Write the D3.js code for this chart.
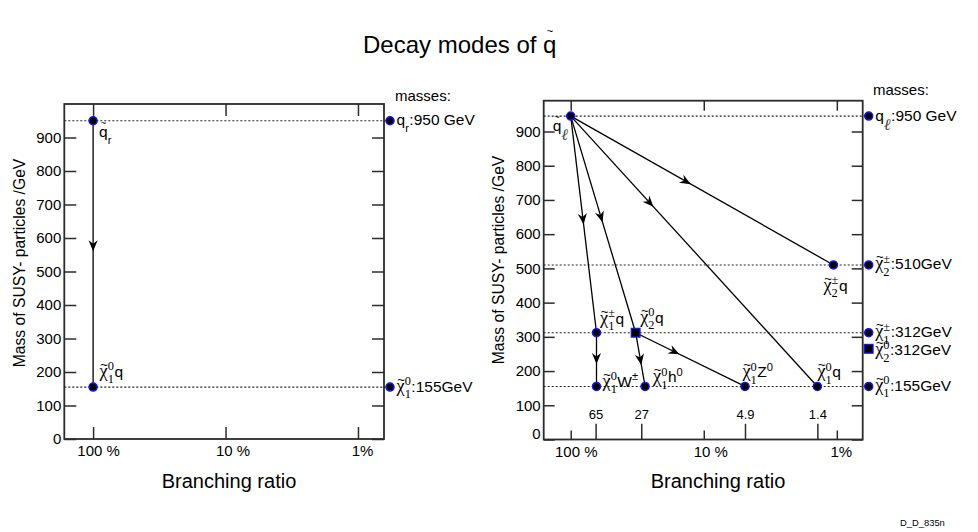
<!DOCTYPE html>
<html>
<head>
<meta charset="utf-8">
<script src="https://cdn.jsdelivr.net/npm/d3@7"></script>
<style>
  body { margin: 0; background: #fff; }
  svg { display: block; }
  text { white-space: pre; }
</style>
</head>
<body>
<svg id="chart" width="978" height="532"></svg>
<script>
const SANS = "'Liberation Sans', Arial, Helvetica, sans-serif";
const SERIF = "'Liberation Serif', 'Times New Roman', serif";
const BLUE = "#1414f0";
const INK = "#2b2b2b";

//------ DATA ------
const yTickValues = d3.range(0, 1000, 100);
const brTicks = [100, 10, 1];
const brTickLabels = ["100 %", "10 %", "1%"];

// left: right-handed squark
const leftStates = [
  { id: "sqR", mass: 950, br: 100 },
  { id: "n1q", mass: 155, br: 100 }
];
const leftDecays = [["sqR", "n1q"]];
const leftLevels = [950, 155];
const leftMassNames = ["qR", "n1"];
const leftMassValues = [950, 155];
const leftMassText = [":950 GeV", ":155GeV"];

// right: left-handed squark
const rightStates = [
  { id: "sqL", mass: 945, br: 100 },
  { id: "c2q", mass: 510, br: 1.06 },
  { id: "c1q", mass: 312, br: 64 },
  { id: "n2q", mass: 312, br: 32.5 },
  { id: "n1W", mass: 155, br: 64 },
  { id: "n1h", mass: 155, br: 27.6 },
  { id: "n1Z", mass: 155, br: 4.9 },
  { id: "n1q", mass: 155, br: 1.4 }
];
const rightDecays = [
  ["sqL", "c1q"], ["sqL", "n2q"], ["sqL", "n1q"], ["sqL", "c2q"],
  ["c1q", "n1W"], ["n2q", "n1h"], ["n2q", "n1Z"]
];
const rightLevels = [945, 510, 312, 155];
const rightMassNames = ["qL", "c2", "c1", "n2", "n1"];
const rightMassValues = [945, 510, 312, 265, 155];
const rightMassText = [":950 GeV", ":510GeV", ":312GeV", ":312GeV", ":155GeV"];
const finalBrTicks = [65, 29.5, 4.9, 1.4];
const finalBrLabels = ["65", "27", "4.9", "1.4"];

//------ LAYOUT ------
const squareIds = new Set(["n2q", "n2"]);

// where the arrow tip sits along each decay line (fraction from the parent)
const arrowAt = {
  "sqR>n1q": 0.49, "sqL>c1q": 0.5, "sqL>n2q": 0.49, "sqL>n1q": 0.335,
  "sqL>c2q": 0.457, "c1q>n1W": 0.58, "n2q>n1h": 0.6, "n2q>n1Z": 0.4
};

// label offsets from the marker, px
const labelOffset = {
  left: { sqR: [6, 16.5], n1q: [6.5, -10.5] },
  right: {
    sqL: [-18, 15], c2q: [-10, 26], c1q: [3.5, -9], n2q: [4.5, -10],
    n1W: [6, 0.5], n1h: [8, -4], n1Z: [-2.5, -9], n1q: [0, -9]
  }
};

const chi = (sup, sub) => [{ t: "χ", serif: true, tilde: true }, { sup: sup, sub: sub, serif: true }];
const particle = {
  sqR: [{ t: "q", tilde: true }, { sub: "r" }],
  sqL: [{ t: "q", tilde: true }, { sub: "ℓ", ell: true }],
  n1q: [...chi("0", "1"), { t: "q" }],
  c2q: [...chi("±", "2"), { t: "q" }],
  c1q: [...chi("±", "1"), { t: "q" }],
  n2q: [...chi("0", "2"), { t: "q" }],
  n1W: [...chi("0", "1"), { t: "W" }, { sup: "±" }],
  n1h: [...chi("0", "1"), { t: "h" }, { sup: "0" }],
  n1Z: [...chi("0", "1"), { t: "Z" }, { sup: "0" }],
  qR: [{ t: "q" }, { sub: "r" }],
  qL: [{ t: "q" }, { sub: "ℓ", ell: true }],
  c2: chi("±", "2"),
  c1: chi("±", "1"),
  n2: chi("0", "2"),
  n1: chi("0", "1")
};

const panels = [
  {
    key: "left", x0: 64.3, x1: 384, y0: 104, y1: 439, yTop: 1000, brDomain: [165, 0.636],
    states: leftStates, decays: leftDecays, levels: leftLevels,
    massNames: leftMassNames, massValues: leftMassValues, massText: leftMassText,
    yTick: 12, xTickTop: 12, xTickBot: 12, tickDx: [5, 7, 4],
    yTitle: [25, 263], massesAt: [395, 100.7], branchX: 229, zeroUp: 0, extra: false
  },
  {
    key: "right", x0: 543.7, x1: 862.7, y0: 100.7, y1: 439.5, yTop: 990, brDomain: [159.6, 0.639],
    states: rightStates, decays: rightDecays, levels: rightLevels,
    massNames: rightMassNames, massValues: rightMassValues, massText: rightMassText,
    yTick: 11, xTickTop: 10, xTickBot: 9, tickDx: [5, 6.5, 4],
    yTitle: [504, 260], massesAt: [873, 95], branchX: 718, zeroUp: 6, extra: true
  }
];

//------ HELPERS ------
// draws a little TLatex-like string: pieces of text, tildes, stacked scripts
function rich(g, x, y, pieces, size) {
  let cx = x;
  pieces.forEach(p => {
    if (p.t != null) {
      const fs = p.serif ? size * 1.18 : size;
      const t = g.append("text")
        .attr("x", cx).attr("y", y)
        .attr("font-family", p.serif ? SERIF : SANS)
        .attr("font-size", fs)
        .text(p.t);
      const w = t.node().getComputedTextLength();
      if (p.tilde) {
        const ts = size * (p.tildeSize || (p.serif ? 0.85 : 0.6));
        const rise = size * (p.rise || (p.serif ? 0.8 : 0.9));
        g.append("text")
          .attr("x", cx + w / 2 + (p.serif ? 0.5 : 0))
          .attr("y", y - rise + ts * 0.33)
          .attr("text-anchor", "middle")
          .attr("font-family", SANS)
          .attr("font-size", ts)
          .text("~");
      }
      cx += w;
    } else {
      const ss = size * (p.serif ? 0.8 : 0.72);
      let w = 0;
      if (p.sup != null) {
        const t = g.append("text")
          .attr("x", cx).attr("y", y - size * 0.42)
          .attr("font-family", p.serif ? SERIF : SANS)
          .attr("font-size", ss)
          .text(p.sup);
        w = Math.max(w, t.node().getComputedTextLength());
      }
      if (p.sub != null) {
        let t;
        if (p.ell) {
          t = g.append("text")
            .attr("x", cx).attr("y", y + size * 0.6)
            .attr("font-family", SERIF)
            .attr("font-style", "italic")
            .attr("font-size", size * 1.05)
            .attr("fill", "#444")
            .text(p.sub);
        } else {
          t = g.append("text")
            .attr("x", cx).attr("y", y + size * 0.42)
            .attr("font-family", p.serif ? SERIF : SANS)
            .attr("font-size", ss)
            .text(p.sub);
        }
        w = Math.max(w, t.node().getComputedTextLength());
      }
      cx += w + 0.5;
    }
  });
  return cx;
}

function marker(g, cx, cy, square) {
  if (square) {
    g.append("rect")
      .attr("x", cx - 4.3).attr("y", cy - 4.3)
      .attr("width", 8.6).attr("height", 8.6)
      .attr("fill", "#000").attr("stroke", BLUE).attr("stroke-width", 1.4);
  } else {
    g.append("circle")
      .attr("cx", cx).attr("cy", cy).attr("r", 4)
      .attr("fill", "#000").attr("stroke", BLUE).attr("stroke-width", 1.5);
  }
}

function styleAxis(sel, fontSize) {
  sel.select(".domain").remove();
  sel.selectAll("line").attr("stroke", INK).attr("stroke-width", 1.5);
  sel.selectAll("text")
    .attr("font-family", SANS)
    .attr("font-size", fontSize)
    .attr("fill", "#000");
}

//------ DRAW ------
const svg = d3.select("#chart");
svg.append("rect").attr("width", 978).attr("height", 532).attr("fill", "#fff");

rich(svg, 363, 53, [{ t: "Decay modes of\u00a0" }, { t: "q", tilde: true, rise: 0.92, tildeSize: 0.48 }], 24);

panels.forEach(P => {
  const x = d3.scaleLog().domain(P.brDomain).range([P.x0, P.x1]);
  const y = d3.scaleLinear().domain([0, P.yTop]).range([P.y1, P.y0]);
  const g = svg.append("g").attr("id", "panel-" + P.key);

  // dotted mass levels
  g.selectAll("line.level")
    .data(P.levels)
    .join("line")
    .attr("class", "level")
    .attr("x1", P.x0).attr("x2", P.x1 + 3)
    .attr("y1", d => y(d)).attr("y2", d => y(d))
    .attr("stroke", "#222")
    .attr("stroke-width", 1.1)
    .attr("stroke-dasharray", "2,2");

  // axes (ticks point inwards, ROOT style)
  g.append("g").attr("transform", `translate(${P.x0},0)`)
    .call(d3.axisLeft(y).tickValues(yTickValues).tickSize(-P.yTick).tickPadding(3))
    .call(s => styleAxis(s, 15))
    .call(s => s.selectAll(".tick text").filter(d => d === 0).attr("y", -P.zeroUp));

  g.append("g").attr("transform", `translate(${P.x1},0)`)
    .call(d3.axisRight(y).tickValues(yTickValues).tickSize(-P.yTick).tickFormat(""))
    .call(s => styleAxis(s, 15));

  g.append("g").attr("transform", `translate(0,${P.y0})`)
    .call(d3.axisTop(x).tickValues(brTicks).tickSize(-P.xTickTop).tickFormat(""))
    .call(s => styleAxis(s, 15));

  g.append("g").attr("transform", `translate(0,${P.y1})`)
    .call(d3.axisBottom(x).tickValues(brTicks).tickSize(-P.xTickBot).tickPadding(6.4)
      .tickFormat((d, i) => brTickLabels[i]))
    .call(s => styleAxis(s, 15))
    .call(s => s.selectAll(".tick text").attr("dx", (d, i) => P.tickDx[i]));

  if (P.extra) {
    g.append("g").attr("transform", `translate(0,${P.y1})`)
      .call(d3.axisBottom(x).tickValues(finalBrTicks).tickSize(-15.7)
        .tickFormat((d, i) => finalBrLabels[i]))
      .call(s => styleAxis(s, 13))
      .call(s => s.selectAll(".tick text").attr("y", -21).attr("dy", 0));
  }

  // frame
  g.append("rect")
    .attr("x", P.x0).attr("y", P.y0)
    .attr("width", P.x1 - P.x0).attr("height", P.y1 - P.y0)
    .attr("fill", "none").attr("stroke", INK).attr("stroke-width", 1.8);

  // decay chains
  const byId = {};
  P.states.forEach(s => { byId[s.id] = s; });
  const seg = P.decays.map(([a, b]) => ({
    key: a + ">" + b,
    x1: x(byId[a].br), y1: y(byId[a].mass),
    x2: x(byId[b].br), y2: y(byId[b].mass)
  }));

  g.selectAll("line.decay")
    .data(seg)
    .join("line")
    .attr("class", "decay")
    .attr("x1", d => d.x1).attr("y1", d => d.y1)
    .attr("x2", d => d.x2).attr("y2", d => d.y2)
    .attr("stroke", "#000").attr("stroke-width", 1.3);

  g.selectAll("path.head")
    .data(seg)
    .join("path")
    .attr("class", "head")
    .attr("d", "M0,0L-11,-4.6L-7.5,0L-11,4.6Z")
    .attr("fill", "#000")
    .attr("transform", d => {
      const f = arrowAt[d.key];
      const tx = d.x1 + f * (d.x2 - d.x1);
      const ty = d.y1 + f * (d.y2 - d.y1);
      const ang = Math.atan2(d.y2 - d.y1, d.x2 - d.x1) * 180 / Math.PI;
      return `translate(${tx},${ty}) rotate(${ang})`;
    });

  // particles
  P.states.forEach(s => {
    marker(g, x(s.br), y(s.mass), squareIds.has(s.id));
    const off = labelOffset[P.key][s.id];
    rich(g, x(s.br) + off[0], y(s.mass) + off[1], particle[s.id], 15.5);
  });

  // mass column
  const xm = P.x1 + 6;
  P.massNames.forEach((n, i) => {
    const ym = y(P.massValues[i]);
    const sq = squareIds.has(n);
    marker(g, xm, ym, sq);
    rich(g, xm + 6.5, ym + (sq ? 6.5 : 4.5), [...particle[n], { t: P.massText[i] }], 15.5);
  });

  g.append("text")
    .attr("x", P.massesAt[0]).attr("y", P.massesAt[1])
    .attr("font-family", SANS).attr("font-size", 15)
    .text("masses:");

  // axis titles
  g.append("text")
    .attr("transform", `translate(${P.yTitle[0]},${P.yTitle[1]}) rotate(-90)`)
    .attr("text-anchor", "middle")
    .attr("font-family", SANS).attr("font-size", 15.7)
    .text("Mass of SUSY- particles /GeV");

  g.append("text")
    .attr("x", P.branchX).attr("y", 488)
    .attr("text-anchor", "middle")
    .attr("font-family", SANS).attr("font-size", 20)
    .text("Branching ratio");
});

svg.append("text")
  .attr("x", 900).attr("y", 526)
  .attr("font-family", SANS).attr("font-size", 9.4)
  .text("D_D_835n");
</script>
</body>
</html>
